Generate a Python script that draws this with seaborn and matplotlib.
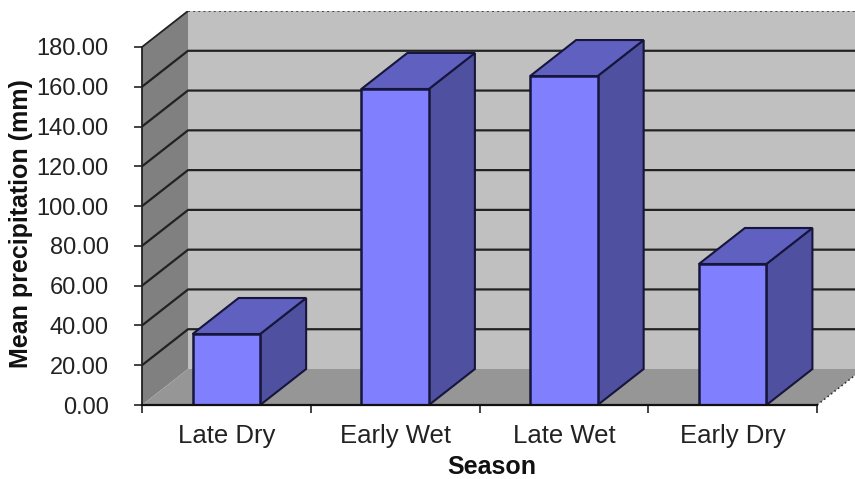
import numpy as np
import pandas as pd
import seaborn as sns
import matplotlib.pyplot as plt
from matplotlib.patches import Polygon

seasons = ['Late Dry', 'Early Wet', 'Late Wet', 'Early Dry']
mean_precip = [35.7, 158.9, 165.4, 70.9]
y_ticks = [0, 20, 40, 60, 80, 100, 120, 140, 160, 180]

# fake 3D depth, in data units
DX = 0.2726
DY = 18.1

sns.set_theme(style='white')
plt.rcParams['font.family'] = ['Liberation Sans', 'DejaVu Sans']

fig = plt.figure(figsize=(8.55, 4.79), dpi=100)
ax = fig.add_axes([142 / 855, 74 / 479, 713 / 855, 394 / 479])
ax.patch.set_visible(False)

df = pd.DataFrame({'Season': seasons, 'Precip': mean_precip})
sns.barplot(data=df, x='Season', y='Precip', width=0.4, color='#8080ff', saturation=1,
            edgecolor='#16163c', linewidth=1.8, ax=ax, zorder=5)

ax.set_xlim(-0.5, 3.725)
ax.set_ylim(0, 198.1)

x0, x1 = -0.5, 3.5
top = y_ticks[-1]

# walls and floor
ax.add_patch(Polygon([(x0 + DX, DY), (4.0, DY), (4.0, top + DY), (x0 + DX, top + DY)],
                     fc='#c0c0c0', ec='none', zorder=1))
ax.add_patch(Polygon([(x0, 0), (x0 + DX, DY), (x0 + DX, top + DY), (x0, top)],
                     fc='#808080', ec='none', zorder=1))
ax.add_patch(Polygon([(x0, 0), (x1, 0), (x1 + DX, DY), (x0 + DX, DY)],
                     fc='#969696', ec='none', zorder=1))

# gridlines on wall
for v in y_ticks[1:-1]:
    ax.plot([x0, x0 + DX, 4.0], [v, v + DY, v + DY], color='#222222', lw=1.6, zorder=2)
ax.plot([x0, x0 + DX], [top, top + DY], color='#222222', lw=1.3, zorder=2)
ax.plot([x0 + DX, 4.0], [top + DY, top + DY], color='#444444', lw=1.4, ls=':', zorder=2)
ax.plot([x1, x1 + DX], [0, DY], color='#333333', lw=1.2, ls=':', zorder=2)

# side and top of each bar
for i, bar in enumerate(ax.patches[:len(seasons)]):
    l = bar.get_x()
    r = l + bar.get_width()
    h = bar.get_height()
    ax.add_patch(Polygon([(r, 0), (r + DX, DY), (r + DX, h + DY), (r, h)],
                         fc='#5050a0', ec='#16163c', lw=1.5, zorder=4))
    ax.add_patch(Polygon([(l, h), (l + DX, h + DY), (r + DX, h + DY), (r, h)],
                         fc='#6060c0', ec='#16163c', lw=1.5, zorder=4))

sns.despine(ax=ax, top=True, right=True)
ax.spines['left'].set_bounds(0, top)
ax.spines['bottom'].set_bounds(x0, x1)
ax.spines['left'].set_color('#222222')
ax.spines['bottom'].set_color('#111111')
ax.spines['left'].set_linewidth(1.3)
ax.spines['bottom'].set_linewidth(1.6)
ax.spines['left'].set_zorder(6)
ax.spines['bottom'].set_zorder(6)

ax.set_yticks(y_ticks)
ax.set_yticklabels(['%.2f' % v for v in y_ticks])
ax.set_xticks(range(len(seasons)))
ax.set_xticklabels(seasons)
ax.set_xticks(np.arange(x0, x1 + 0.5), minor=True)
ax.tick_params(axis='x', which='major', length=0, pad=14, labelsize=18.5, labelcolor='#222222')
ax.tick_params(axis='x', which='minor', length=6, width=1.2, color='#222222', bottom=True)
ax.tick_params(axis='y', length=6, width=1.2, color='#222222', pad=18, labelsize=17,
               labelcolor='#222222', left=True)

ax.set_xlabel('')
ax.set_ylabel('')
fig.text(492 / 855, 1 - 467 / 479, 'Season', ha='center', va='center', fontsize=18,
         fontweight='bold', color='#111111')
fig.text(21 / 855, 1 - 224 / 479, 'Mean precipitation (mm)', ha='center', va='center',
         rotation=90, fontsize=18, fontweight='bold', color='#111111')

fig.savefig('out.png', dpi=100)
